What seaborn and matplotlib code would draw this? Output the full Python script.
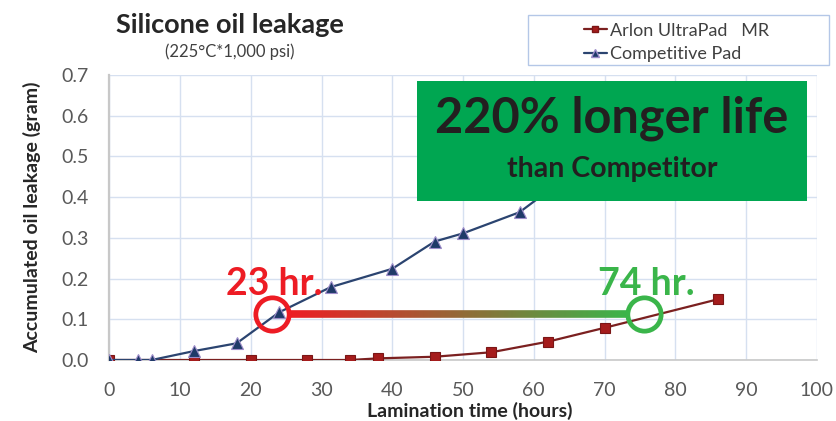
import numpy as np
import matplotlib
matplotlib.use("Agg")
import matplotlib.pyplot as plt
from matplotlib.collections import LineCollection
from matplotlib.patches import Rectangle
from matplotlib.lines import Line2D
from matplotlib.colors import to_rgb
import seaborn as sns
import pandas as pd

#--------------------
# data
#--------------------
arlon_hours = [0, 12, 20, 28, 34, 38, 46, 54, 62, 70, 86]
arlon_leak  = [0.0, 0.0, 0.0, 0.0, 0.0, 0.004, 0.008, 0.019, 0.045, 0.079, 0.149]

comp_hours = [0, 4, 6, 12, 18, 24, 31.3, 40, 46, 50, 58, 62, 66]
comp_leak  = [0.0, 0.0, 0.0, 0.022, 0.041, 0.117, 0.179, 0.224, 0.291, 0.311, 0.363, 0.415, 0.465]

series_names = ["Arlon UltraPad   MR", "Competitive Pad"]
life_labels  = ["23 hr.", "74 hr."]
life_marks   = [23, 75.6]     # where the circles sit on the time axis
life_level   = 0.113          # leakage level of the bar

x_ticks = list(range(0, 101, 10))
y_ticks = [0.0, 0.1, 0.2, 0.3, 0.4, 0.5, 0.6, 0.7]

arlon_df = pd.DataFrame({"hours": arlon_hours, "leak": arlon_leak})
comp_df  = pd.DataFrame({"hours": comp_hours, "leak": comp_leak})

#--------------------
# styling
#--------------------
sns.set_theme(style="whitegrid")
plt.rcParams["font.family"] = ["Lato", "DejaVu Sans"]

red   = "#ED1C24"
green = "#3AB54A"
c_arlon = "#7B2020"
c_comp  = "#2B4470"
tick_col = "#595959"

fig = plt.figure(figsize=(8.36, 4.21), dpi=100)
ax = fig.add_axes([0.1307, 0.1449, 0.8463, 0.677])

sns.lineplot(data=arlon_df, x="hours", y="leak", ax=ax, color=c_arlon, lw=1.6,
             marker="s", markersize=6.5, markerfacecolor="#A51C1C",
             markeredgecolor="#7B1616", markeredgewidth=0.8, zorder=3)
sns.lineplot(data=comp_df, x="hours", y="leak", ax=ax, color=c_comp, lw=1.6,
             marker="^", markersize=8.5, markerfacecolor="#1F3A68",
             markeredgecolor="#9D8CC9", markeredgewidth=0.8, zorder=3)

ax.set_xlim(0, 100)
ax.set_ylim(0, 0.7)
ax.set_xticks(x_ticks)
ax.set_yticks(y_ticks)
ax.set_yticklabels([f"{v:.1f}" for v in y_ticks])
ax.tick_params(axis="x", labelsize=14, colors=tick_col, pad=16, length=0)
ax.tick_params(axis="y", labelsize=14, colors=tick_col, pad=15, length=0)
ax.grid(True, color="#D6E0F0", lw=1.0)
for s in ["top", "right"]:
    ax.spines[s].set_visible(False)
ax.spines["left"].set_color("#C8C8C8")
ax.spines["left"].set_linewidth(1.6)
ax.spines["bottom"].set_color("#C8C8C8")
ax.spines["bottom"].set_linewidth(1.2)
ax.set_facecolor("white")

ax.set_xlabel("Lamination time (hours)", fontsize=14, fontweight="bold",
              color="#262626")
ax.set_ylabel("Accumulated oil leakage (gram)", fontsize=14, fontweight="bold",
              color="#262626")
ax.xaxis.set_label_coords(0.51, -0.148)
ax.yaxis.set_label_coords(-0.097, 0.5)

# gradient bar between the two circles
xs = np.linspace(life_marks[0] + 2.5, life_marks[1] - 2.2, 200)
c0, c1 = np.array(to_rgb(red)), np.array(to_rgb(green))
segs = [[(xs[i], life_level), (xs[i + 1], life_level)] for i in range(len(xs) - 1)]
cols = [c0 + (c1 - c0) * t for t in np.linspace(0, 1, len(segs))]
ax.add_collection(LineCollection(segs, colors=cols, linewidths=5.5, zorder=4,
                                 capstyle="butt"))

for xm, lab, col in zip(life_marks, life_labels, [red, green]):
    ax.plot([xm], [life_level], marker="o", ms=24, mfc="none", mec=col, mew=3.4,
            zorder=5)
    ax.text(xm + 0.3, 0.186, lab, color=col, fontsize=27, fontweight="bold",
            ha="center", va="center", zorder=6)

# title
fig.text(0.275, 0.94, "Silicone oil leakage", ha="center", va="center",
         fontsize=19.5, fontweight="bold", color="#262626")
fig.text(0.275, 0.877, "(225\u00b0C*1,000 psi)", ha="center", va="center",
         fontsize=12, color="#404040")

# legend with its own frame
fig.add_artist(Rectangle((528 / 836, 1 - 65 / 421), 301 / 836, 50 / 421,
                         transform=fig.transFigure, fill=False,
                         edgecolor="#B4C7E7", lw=1.0))
handles = [Line2D([0], [0], color=c_arlon, lw=1.6, marker="s", ms=5,
                  mfc="#A51C1C", mec="#7B1616"),
           Line2D([0], [0], color=c_comp, lw=1.6, marker="^", ms=6,
                  mfc="#1F3A68", mec="#9D8CC9")]
fig.legend(handles, series_names, loc="upper left",
           bbox_to_anchor=(571 / 836, 1 - 10 / 421), frameon=False,
           fontsize=13, handlelength=1.3, handletextpad=0.15,
           labelspacing=0.4, borderpad=0.2, labelcolor="#404040")

# green callout box
fig.add_artist(Rectangle((417 / 836, 1 - 201 / 421), 390 / 836, 120 / 421,
                         transform=fig.transFigure, facecolor="#00A651",
                         edgecolor="none", zorder=10))
fig.text(612 / 836, 1 - 118 / 421, "220% longer life", ha="center", va="center",
         fontsize=35, fontweight="bold", color="#231F20", zorder=11)
fig.text(612 / 836, 1 - 169 / 421, "than Competitor", ha="center", va="center",
         fontsize=20.5, fontweight="bold", color="#231F20", zorder=11)

fig.savefig("out.png", dpi=100, facecolor="white")
